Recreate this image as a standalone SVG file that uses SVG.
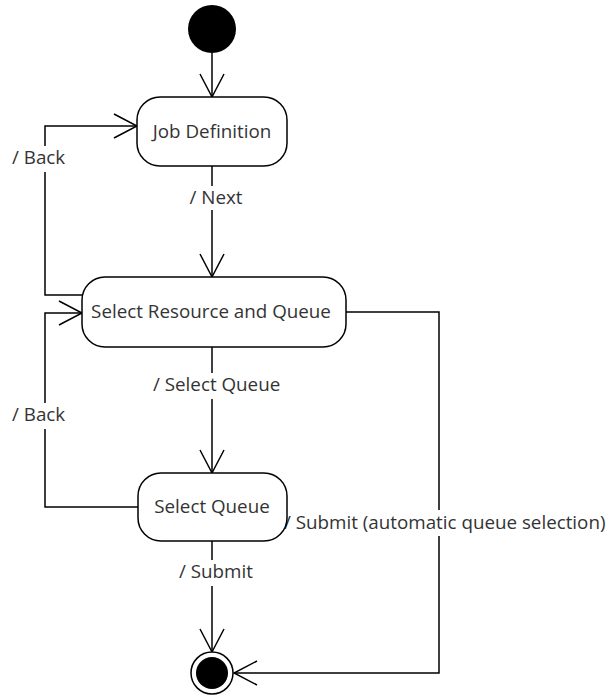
<svg xmlns="http://www.w3.org/2000/svg" width="608" height="696" viewBox="0 0 608 696">
  <style>
    .state { fill: #ffffff; stroke: #000000; stroke-width: 1.5; }
    .label { font-family: "Open Sans", "Noto Sans", sans-serif; font-size: 18.8px; fill: #333333; }
    .edge { fill: none; stroke: #000000; stroke-width: 1.5; }
    .bg { fill: #ffffff; stroke: none; }
  </style>
  <defs>
    <marker id="open-arrow" viewBox="0 0 26 26" refX="24" refY="13" markerWidth="26" markerHeight="26" markerUnits="userSpaceOnUse" orient="auto">
      <path d="M1,1 L24,13 L1,25" fill="none" stroke="#000000" stroke-width="1.5"/>
    </marker>
  </defs>
  <rect width="608" height="696" fill="#ffffff"/>

  <!-- transitions -->
  <g id="connectors">
    <line class="edge" x1="212" y1="53" x2="212" y2="97" marker-end="url(#open-arrow)"/>
    <line class="edge" x1="212" y1="166" x2="212" y2="277" marker-end="url(#open-arrow)"/>
    <line class="edge" x1="212" y1="347" x2="212" y2="473" marker-end="url(#open-arrow)"/>
    <line class="edge" x1="212" y1="541" x2="212" y2="652" marker-end="url(#open-arrow)"/>
    <polyline class="edge" points="84,295 45,295 45,126 137,126" marker-end="url(#open-arrow)"/>
    <polyline class="edge" points="139,507 45,507 45,313 82,313" marker-end="url(#open-arrow)"/>
    <polyline class="edge" points="346,312 439,312 439,673 234,673" marker-end="url(#open-arrow)"/>

    <rect class="bg" x="186" y="186" width="62" height="24"/>
    <text class="label" x="216" y="204" text-anchor="middle">/ Next</text>
    <rect class="bg" x="10" y="146" width="62" height="26"/>
    <text class="label" x="12" y="164">/ Back</text>
    <rect class="bg" x="10" y="403" width="62" height="26"/>
    <text class="label" x="12" y="421">/ Back</text>
    <rect class="bg" x="150" y="373" width="134" height="26"/>
    <text class="label" x="153" y="391">/ Select Queue</text>
    <rect class="bg" x="176" y="560" width="80" height="26"/>
    <text class="label" x="179" y="578">/ Submit</text>
    <rect class="bg" x="287" y="510" width="318" height="26"/>
    <text class="label" x="284" y="529">/ Submit (automatic queue selection)</text>
  </g>

  <g id="initial">
    <circle cx="212" cy="29" r="24" fill="#000000"/>
  </g>

  <g id="job-definition">
    <rect class="state" x="137" y="97" width="150" height="69" rx="23" ry="23"/>
    <text class="label" x="212" y="138" text-anchor="middle">Job Definition</text>
  </g>

  <g id="select-resource">
    <rect class="state" x="82" y="277" width="264" height="70" rx="23" ry="23"/>
    <text class="label" x="211" y="318" text-anchor="middle">Select Resource and Queue</text>
  </g>

  <g id="select-queue">
    <rect class="state" x="138" y="473" width="149" height="68" rx="23" ry="23"/>
    <text class="label" x="212" y="513" text-anchor="middle">Select Queue</text>
  </g>

  <g id="final">
    <circle cx="212" cy="673" r="21" fill="#ffffff" stroke="#000000" stroke-width="1.5"/>
    <circle cx="212" cy="673" r="16" fill="#000000"/>
  </g>
</svg>
